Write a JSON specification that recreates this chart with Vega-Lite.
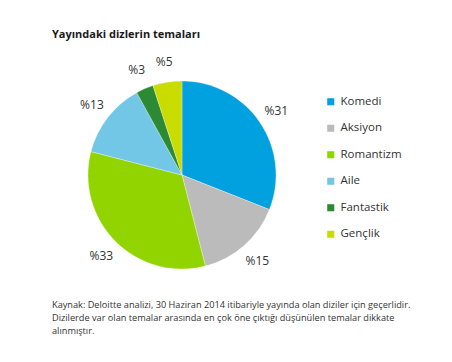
{
  "$schema": "https://vega.github.io/schema/vega-lite/v6.json",
  "padding": {"left": 52, "top": 29, "right": 0, "bottom": 0},
  "background": "white",
  "config": {"view": {"stroke": null}, "font": "Open Sans"},
  "title": {"text": "Yayındaki dizlerin temaları", "anchor": "start", "fontSize": 11, "fontWeight": "bold", "color": "#1a1a1a", "offset": 10},
  "vconcat": [
    {
      "width": 260,
      "height": 250,
      "title": {
        "text": [
          "Kaynak: Deloitte analizi, 30 Haziran 2014 itibariyle yayında olan diziler için geçerlidir.",
          "Dizilerde var olan temalar arasında en çok öne çıktığı düşünülen temalar dikkate",
          "alınmıştır."
        ],
        "orient": "bottom", "anchor": "start", "fontSize": 9.2, "fontWeight": "normal", "color": "#333333", "lineHeight": 13, "offset": 1
      },
      "data": {"values": [
        {"tema": "Komedi", "pct": 31, "label": "%31", "order": 1},
        {"tema": "Aksiyon", "pct": 15, "label": "%15", "order": 2},
        {"tema": "Romantizm", "pct": 33, "label": "%33", "order": 3},
        {"tema": "Aile", "pct": 13, "label": "%13", "order": 4},
        {"tema": "Fantastik", "pct": 3, "label": "%3", "order": 5},
        {"tema": "Gençlik", "pct": 5, "label": "%5", "order": 6}
      ]},
      "encoding": {
        "theta": {"field": "pct", "type": "quantitative", "stack": true},
        "order": {"field": "order", "type": "quantitative"}
      },
      "layer": [
        {"mark": {"type": "arc", "outerRadius": 94, "stroke": "white", "strokeWidth": 0.3},
         "encoding": {
          "color": {
            "field": "tema", "type": "nominal",
            "sort": ["Komedi", "Aksiyon", "Romantizm", "Aile", "Fantastik", "Gençlik"],
            "scale": {"domain": ["Komedi", "Aksiyon", "Romantizm", "Aile", "Fantastik", "Gençlik"], "range": ["#00A1DE", "#BBBBBB", "#92D400", "#72C7E7", "#2C8A34", "#C8DC00"]},
            "legend": {"orient": "none", "legendX": 273, "legendY": 46, "title": null, "symbolType": "square", "symbolSize": 50, "symbolStrokeWidth": 0, "labelFontSize": 11.5, "labelColor": "#333333", "labelFont": "Open Sans", "rowPadding": 13.5, "labelOffset": 4, "padding": 0}
          }
         }},
        {"mark": {"type": "text", "radius": 114, "fontSize": 12, "color": "#333333", "font": "Open Sans"},
         "encoding": {"text": {"field": "label", "type": "nominal"}}}
      ]
    }
  ]
}
